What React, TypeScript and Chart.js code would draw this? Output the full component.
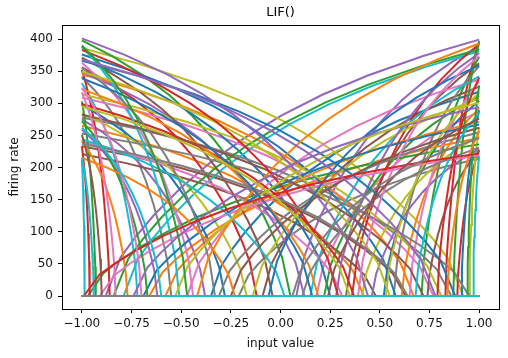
import React, { useEffect, useRef } from "react";
import { Chart, registerables } from "chart.js";

Chart.register(...registerables);

// Encoder direction of each neuron (+1 fires for positive input, -1 for negative input)
const encoders = [
  1, -1, 1, -1, 1, -1, 1, -1, -1, -1,
  1, 1, -1, 1, -1, 1, -1, 1, 1, -1,
  -1, 1, 1, -1, 1, -1, 1, -1, 1, 1,
  -1, -1, 1, 1, -1, 1, -1, 1, -1, 1,
  -1, 1, -1, 1, -1, 1, -1, 1, -1, 1,
  1, -1, 1, -1, 1, -1, 1, -1, 1, -1,
  1, -1, 1, -1, 1, -1, 1, -1, 1, -1,
  -1, 1, -1, 1, -1, 1, -1, 1, -1, 1,
  1, -1, 1, -1, 1, -1, 1, -1, 1, -1,
  -1, 1, -1, 1, -1, 1, -1, 1, -1, -1,
];

// Input value at which each neuron starts firing
const intercepts = [
  -0.35, 0.42, 0.71, -0.12, -0.88, 0.63, 0.18, -0.55, 0.92, -0.985,
  0.52, -0.66, 0.05, 0.89, -0.38, 0.33, 0.77, -0.21, 0.95, -0.72,
  0.25, 0.61, -0.97, -0.86, 0.08, 0.48, -0.47, 0.86, 0.41, -0.79,
  -0.28, 0.67, 0.22, 0.83, -0.62, -0.09, 0.31, 0.57, -0.17, 0.97,
  0.58, -0.58, -0.93, 0.36, 0.12, 0.74, -0.44, -0.31, 0.81, 0.15,
  0.91, -0.77, -0.84, 0.37, 0.46, -0.04, 0.65, 0.95, -0.14, -0.51,
  -0.69, 0.19, 0.87, -0.96, 0.28, 0.72, -0.91, -0.33, 0.53, 0.02,
  0.88, -0.42, -0.67, 0.79, 0.44, -0.25, -0.83, 0.11, 0.55, 0.68,
  -0.06, -0.23, 0.94, 0.29, -0.74, -0.9, 0.39, 0.64, -0.53, -0.94,
  0.16, 0.84, -0.47, -0.99, 0.78, 0.24, -0.7, 0.06, 0.35, -0.6,
];

// Firing rate reached at the end of the input range
const maxRates = [
  318, 265, 372, 356, 399, 233, 287, 341, 386, 212,
  304, 246, 398, 227, 275, 362, 309, 214, 263, 331,
  369, 292, 236, 352, 389, 221, 337, 278, 249, 381,
  297, 345, 311, 395, 259, 326, 240, 358, 284, 218,
  376, 271, 303, 392, 348, 226, 363, 255, 314, 342,
  289, 241, 384, 299, 229, 371, 334, 253, 307, 388,
  267, 322, 397, 233, 378, 282, 219, 355, 316, 244,
  366, 393, 272, 340, 401, 262, 317, 231, 349, 285,
  359, 215, 328, 383, 294, 251, 373, 237, 301, 215,
  339, 257, 390, 222, 368, 276, 324, 246, 295, 262,
];

// Shape of a tuning curve: fraction of the way from intercept to the range end,
// and fraction of the maximum rate reached there
const shapeT = [0, 0.04, 0.08, 0.13, 0.2, 0.28, 0.37, 0.47, 0.58, 0.7, 0.85, 1];
const shapeRate = [0, 0.151, 0.231, 0.317, 0.42, 0.521, 0.615, 0.704, 0.785, 0.859, 0.936, 1];

const xTicks = [-1, -0.75, -0.5, -0.25, 0, 0.25, 0.5, 0.75, 1];
const yTicks = [0, 50, 100, 150, 200, 250, 300, 350, 400];

const palette = [
  "#1f77b4", "#ff7f0e", "#2ca02c", "#d62728", "#9467bd",
  "#8c564b", "#e377c2", "#7f7f7f", "#bcbd22", "#17becf",
];

function curvePoints(i: number) {
  const e = encoders[i];
  const c = intercepts[i];
  const m = maxRates[i];
  const pts: { x: number; y: number }[] = [];
  if (e > 0) {
    pts.push({ x: -1, y: 0 });
    shapeT.forEach((t, k) => pts.push({ x: c + t * (1 - c), y: m * shapeRate[k] }));
  } else {
    shapeT.forEach((t, k) => pts.push({ x: c - t * (c + 1), y: m * shapeRate[k] }));
    pts.push({ x: 1, y: 0 });
  }
  pts.sort((a, b) => a.x - b.x);
  return pts;
}

const frameAndTitle = {
  id: "frameAndTitle",
  afterDraw(chart: any) {
    const { ctx, chartArea } = chart;
    ctx.save();
    ctx.strokeStyle = "#000";
    ctx.lineWidth = 1;
    ctx.strokeRect(
      Math.round(chartArea.left) + 0.5,
      Math.round(chartArea.top) + 0.5,
      Math.round(chartArea.right - chartArea.left),
      Math.round(chartArea.bottom - chartArea.top)
    );
    ctx.fillStyle = "#000";
    ctx.font = "13px 'DejaVu Sans'";
    ctx.textAlign = "center";
    ctx.textBaseline = "middle";
    ctx.fillText("LIF()", (chartArea.left + chartArea.right) / 2, 13);
    ctx.restore();
  },
};

export default function App() {
  const ref = useRef<HTMLCanvasElement>(null);
  useEffect(() => {
    if (!ref.current) return;
    Chart.defaults.font.family = "'DejaVu Sans'";
    Chart.defaults.font.size = 12;
    Chart.defaults.color = "#111";
    const n = encoders.length;
    const datasets = encoders.map((_, i) => ({
      data: curvePoints(i),
      borderColor: palette[i % 10],
      borderWidth: 2,
      pointRadius: 0,
      fill: false,
      tension: 0,
      order: n - i,
    }));
    const chart = new Chart(ref.current, {
      type: "line",
      data: { datasets },
      plugins: [frameAndTitle],
      options: {
        animation: false,
        responsive: false,
        events: [],
        layout: { padding: { top: 25, right: 9, left: 0, bottom: 0 } },
        plugins: { legend: { display: false }, tooltip: { enabled: false } },
        scales: {
          x: {
            type: "linear",
            min: -1.1,
            max: 1.1,
            afterBuildTicks: (s: any) => {
              s.ticks = xTicks.map((v) => ({ value: v }));
            },
            afterFit: (s: any) => {
              s.height = 49;
            },
            ticks: {
              autoSkip: false,
              maxRotation: 0,
              padding: 4,
              callback: (v: any) => (Number(v) < 0 ? "\u2212" : "") + Math.abs(Number(v)).toFixed(2),
            },
            grid: { display: true, drawOnChartArea: false, drawTicks: true, tickLength: 4, color: "#000" },
            border: { display: false },
            title: { display: true, text: "input value", padding: { top: 0, bottom: 7 } },
          },
          y: {
            type: "linear",
            min: -20.2,
            max: 421.8,
            afterBuildTicks: (s: any) => {
              s.ticks = yTicks.map((v) => ({ value: v }));
            },
            afterFit: (s: any) => {
              s.width = 62;
            },
            ticks: { autoSkip: false, padding: 5 },
            grid: { display: true, drawOnChartArea: false, drawTicks: true, tickLength: 4, color: "#000" },
            border: { display: false },
            title: { display: true, text: "firing rate", padding: { top: 8, bottom: 0 } },
          },
        },
      },
    });
    return () => chart.destroy();
  }, []);
  return (
    <canvas
      ref={ref}
      width={508}
      height={358}
      style={{ position: "fixed", left: 0, top: 0, width: 508, height: 358 }}
    />
  );
}
